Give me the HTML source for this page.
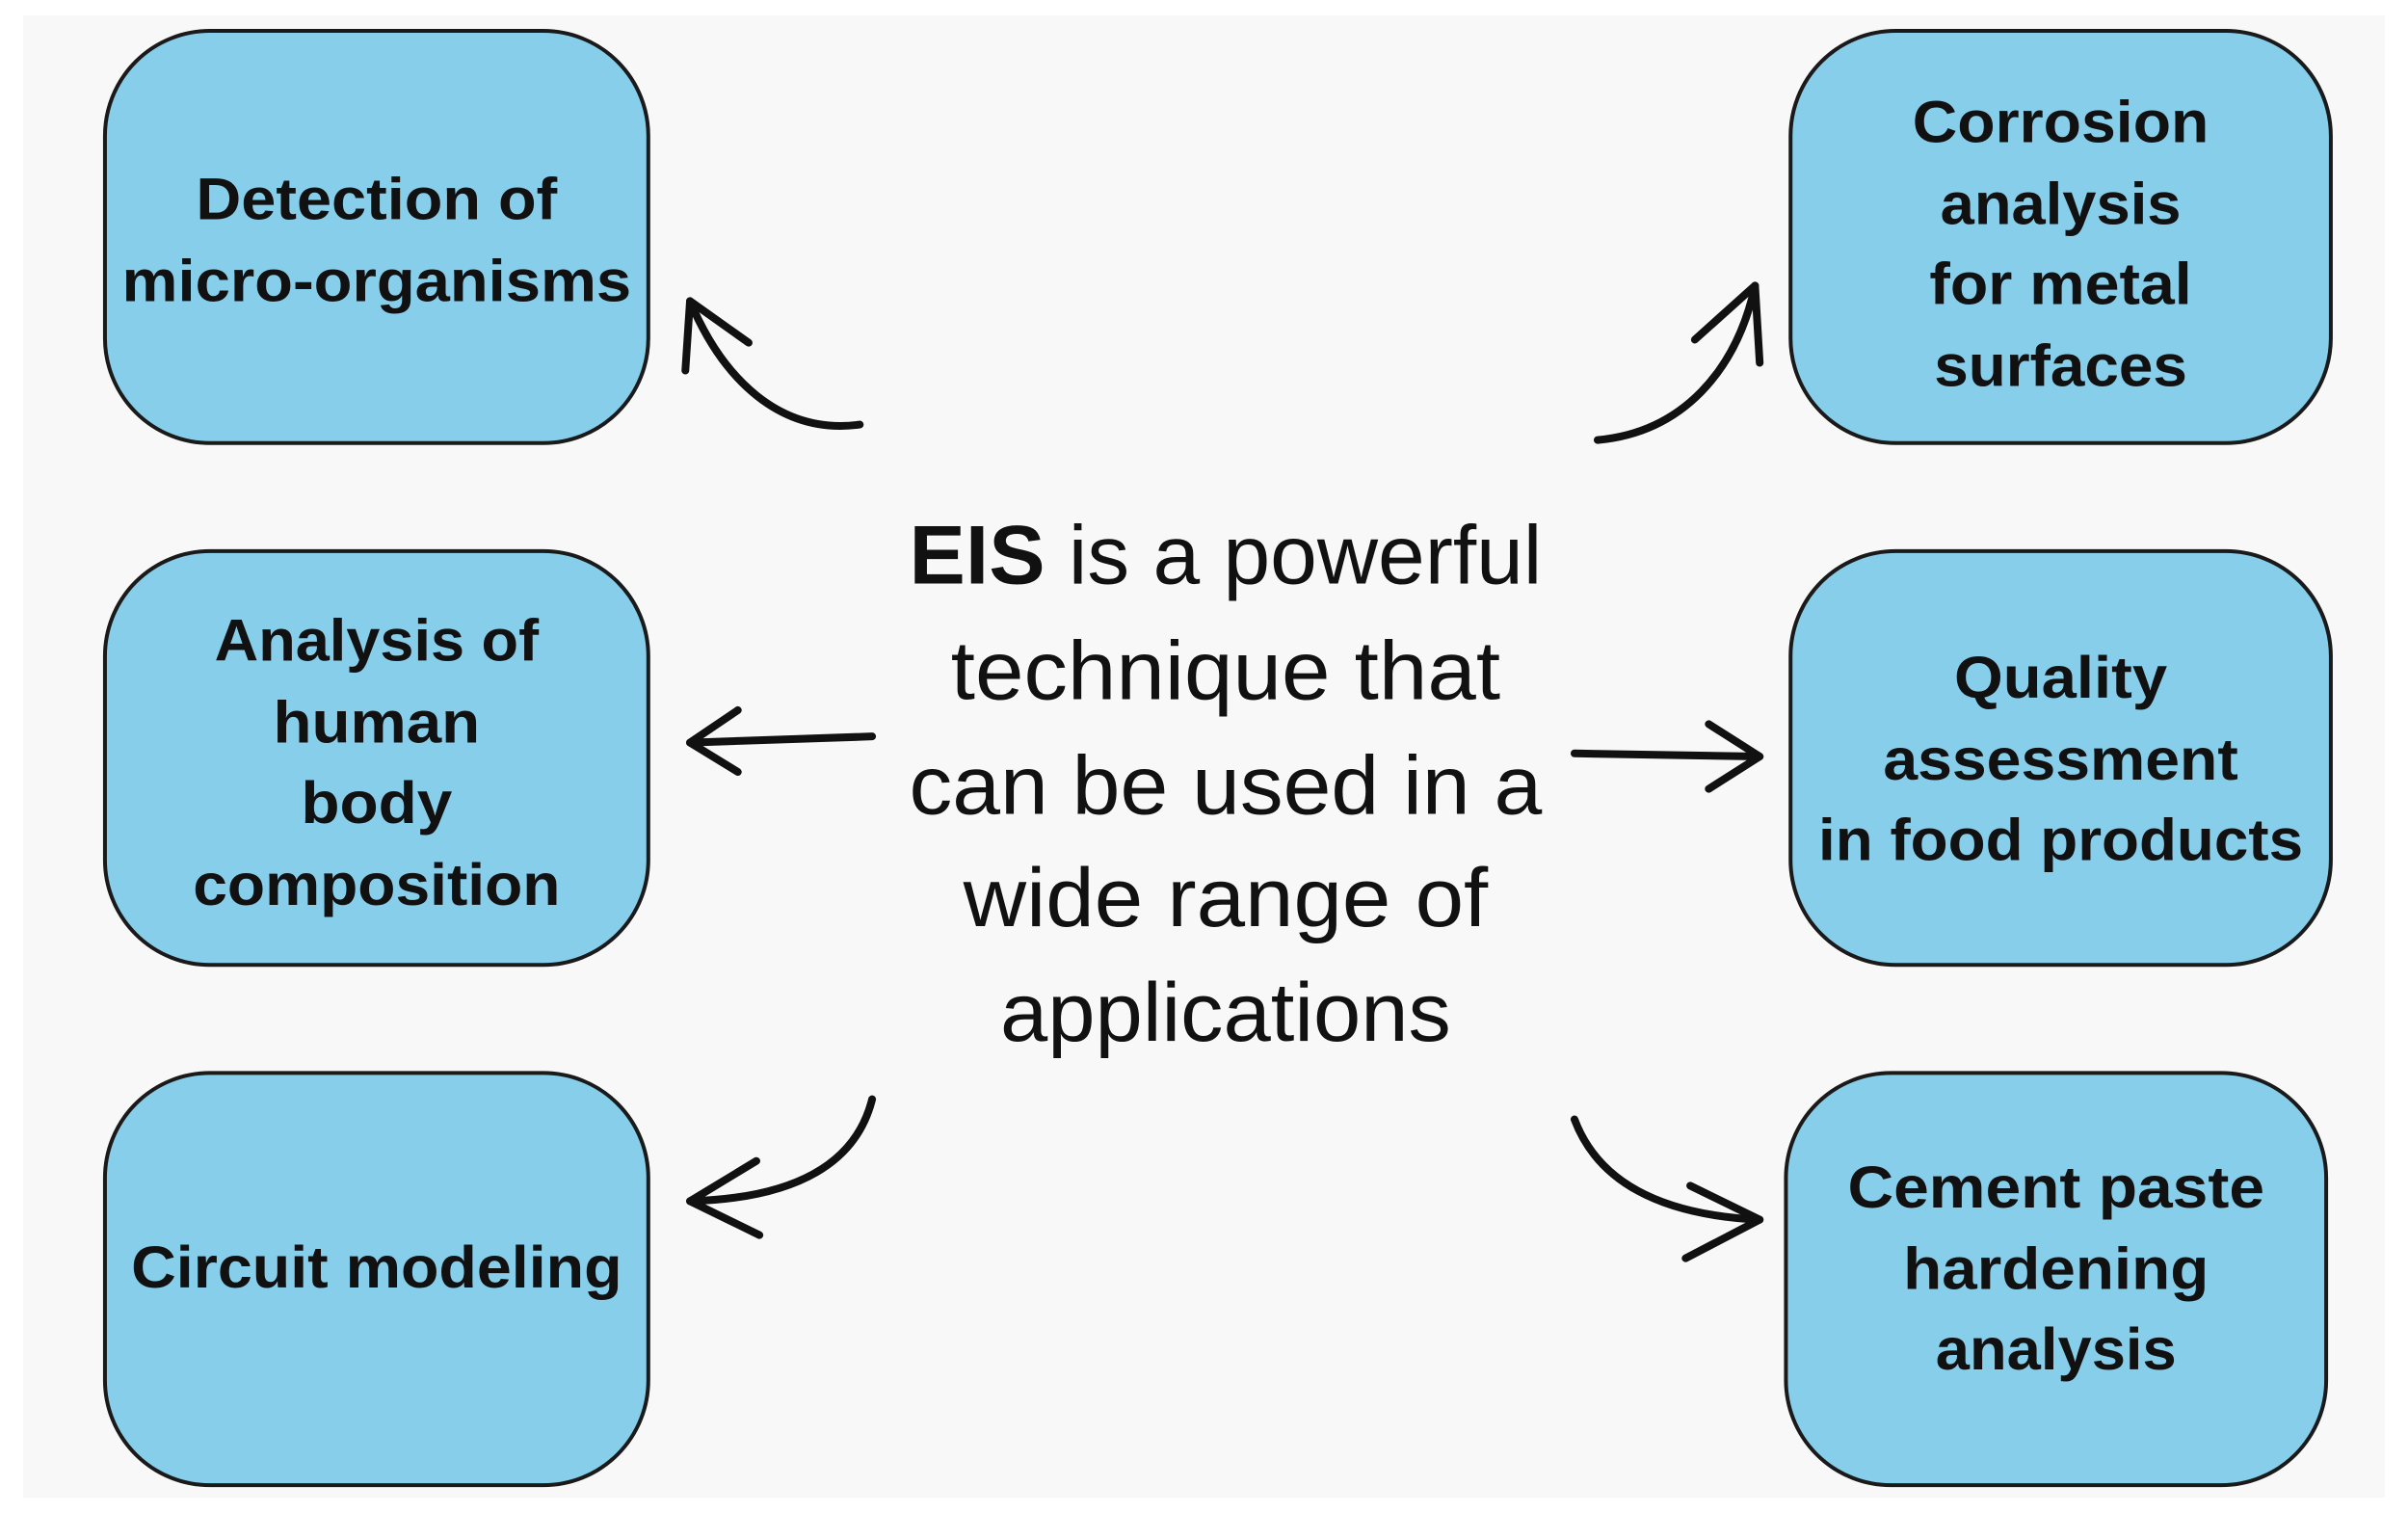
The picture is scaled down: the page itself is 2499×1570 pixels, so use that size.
<!DOCTYPE html>
<html><head><meta charset="utf-8"><style>
html,body{margin:0;padding:0;background:#fff;}
svg{display:block;}
text{font-family:"Liberation Sans",Arial,sans-serif;}
.b{font-weight:bold;font-size:38px;fill:#111;}
.c{font-size:54px;fill:#111;}
</style></head><body>
<svg width="2499" height="1570" viewBox="0 0 1560 980" preserveAspectRatio="none" xmlns="http://www.w3.org/2000/svg">
<rect x="15" y="10" width="1530" height="960" fill="#f8f8f8"/>
<g fill="#87ceeb" stroke="#1a1a1a" stroke-width="2.5">
<rect x="68" y="20" width="352" height="267" rx="68"/>
<rect x="68" y="357" width="352" height="268" rx="68"/>
<rect x="68" y="695" width="352" height="267" rx="68"/>
<rect x="1160" y="20" width="350" height="267" rx="68"/>
<rect x="1160" y="357" width="350" height="268" rx="68"/>
<rect x="1157" y="695" width="350" height="267" rx="68"/>
</g>
<g class="b" text-anchor="middle">
<text x="244" y="142" textLength="234" lengthAdjust="spacingAndGlyphs">Detection of</text>
<text x="244" y="195" textLength="330" lengthAdjust="spacingAndGlyphs">micro-organisms</text>
<text x="244" y="428" textLength="210" lengthAdjust="spacingAndGlyphs">Analysis of</text>
<text x="244" y="481" textLength="134" lengthAdjust="spacingAndGlyphs">human</text>
<text x="244" y="533" textLength="98" lengthAdjust="spacingAndGlyphs">body</text>
<text x="244" y="586" textLength="238" lengthAdjust="spacingAndGlyphs">composition</text>
<text x="244" y="834" textLength="318" lengthAdjust="spacingAndGlyphs">Circuit modeling</text>
<text x="1335" y="92" textLength="192" lengthAdjust="spacingAndGlyphs">Corrosion</text>
<text x="1335" y="145" textLength="156" lengthAdjust="spacingAndGlyphs">analysis</text>
<text x="1335" y="197" textLength="170" lengthAdjust="spacingAndGlyphs">for metal</text>
<text x="1335" y="250" textLength="164" lengthAdjust="spacingAndGlyphs">surfaces</text>
<text x="1335" y="452" textLength="138" lengthAdjust="spacingAndGlyphs">Quality</text>
<text x="1335" y="505" textLength="230" lengthAdjust="spacingAndGlyphs">assessment</text>
<text x="1335" y="557" textLength="314" lengthAdjust="spacingAndGlyphs">in food products</text>
<text x="1332" y="782" textLength="270" lengthAdjust="spacingAndGlyphs">Cement paste</text>
<text x="1332" y="835" textLength="198" lengthAdjust="spacingAndGlyphs">hardening</text>
<text x="1332" y="887" textLength="156" lengthAdjust="spacingAndGlyphs">analysis</text>
</g>
<g class="c" text-anchor="middle">
<text x="794" y="378" textLength="410" lengthAdjust="spacingAndGlyphs"><tspan font-weight="bold">EIS</tspan> is a powerful</text>
<text x="794" y="453" textLength="356" lengthAdjust="spacingAndGlyphs">technique that</text>
<text x="794" y="527" textLength="410" lengthAdjust="spacingAndGlyphs">can be used in a</text>
<text x="794" y="600" textLength="340" lengthAdjust="spacingAndGlyphs">wide range of</text>
<text x="794" y="674" textLength="292" lengthAdjust="spacingAndGlyphs">applications</text>
</g>
<g fill="none" stroke="#111" stroke-width="5" stroke-linecap="round" stroke-linejoin="round">
<path d="M557,275 C505,282 468,245 447,195"/>
<path d="M485,222 L447,195 L444,240"/>
<path d="M1035,285 C1090,280 1125,240 1137,185"/>
<path d="M1098,220 L1137,185 L1140,235"/>
<path d="M565,477 L447,481"/>
<path d="M478,460 L447,481 L478,500"/>
<path d="M1020,488 L1140,490"/>
<path d="M1107,469 L1140,490 L1107,511"/>
<path d="M565,712 C555,752 518,776 447,778"/>
<path d="M490,752 L447,778 L492,800"/>
<path d="M1020,725 C1035,765 1075,787 1140,790"/>
<path d="M1095,768 L1140,790 L1092,815"/>
</g>
</svg>
</body></html>
